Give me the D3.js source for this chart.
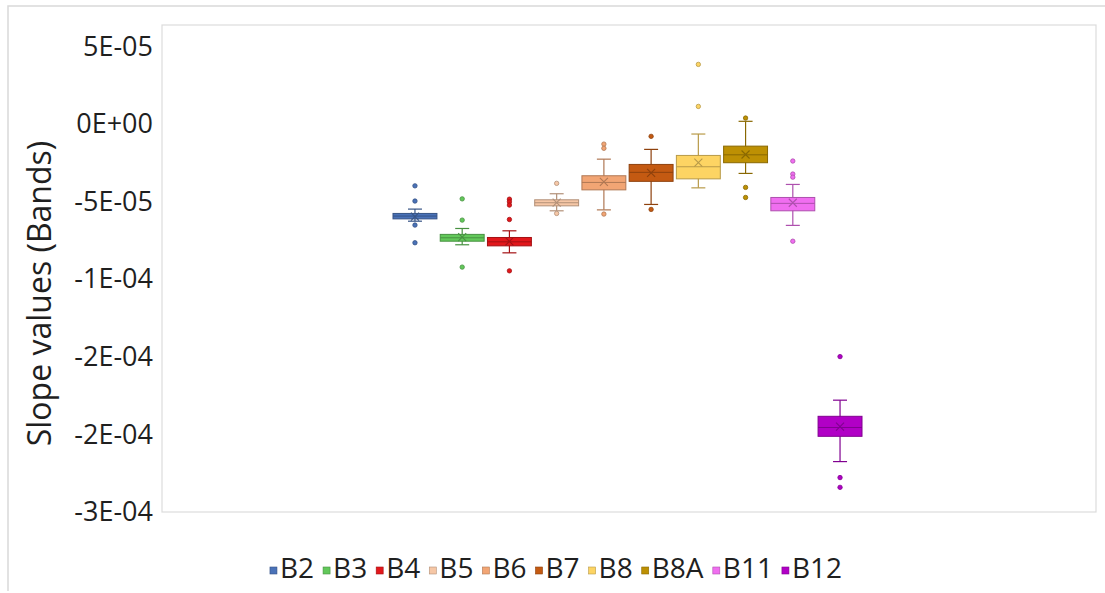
<!doctype html>
<html>
<head>
<meta charset="utf-8"/>
<script src="https://d3js.org/d3.v7.min.js"></script>
<style>
  body { margin:0; background:#fff; }
  text { font-family: "Open Sans", "Noto Sans", sans-serif; fill:#1f1f1f; }
</style>
</head>
<body>
<script>
// band names and colours
var bands   = ["B2","B3","B4","B5","B6","B7","B8","B8A","B11","B12"];
var colours = ["#4a72b8","#62c85a","#e2171b","#f6c7a6","#f2a574","#c45a12","#fdd463","#bd9003","#f06ef0","#b100c6"];

// box statistics (slope values)
var q1      = [-6.10e-5,-7.54e-5,-7.84e-5,-5.26e-5,-4.23e-5,-3.68e-5,-3.52e-5,-2.48e-5,-5.58e-5,-20.12e-5];
var median  = [-5.92e-5,-7.32e-5,-7.58e-5,-5.06e-5,-3.75e-5,-3.10e-5,-2.74e-5,-1.97e-5,-5.10e-5,-19.55e-5];
var q3      = [-5.75e-5,-7.10e-5,-7.30e-5,-4.87e-5,-3.32e-5,-2.59e-5,-2.01e-5,-1.41e-5,-4.72e-5,-18.83e-5];
var wLow    = [-6.25e-5,-7.77e-5,-8.29e-5,-5.58e-5,-5.52e-5,-5.17e-5,-4.10e-5,-3.17e-5,-6.52e-5,-21.75e-5];
var wHigh   = [-5.47e-5,-6.72e-5,-6.87e-5,-4.48e-5,-2.25e-5,-1.62e-5,-0.63e-5, 0.19e-5,-3.88e-5,-17.79e-5];
var mean    = [-5.95e-5,-7.28e-5,-7.55e-5,-5.05e-5,-3.71e-5,-3.13e-5,-2.48e-5,-1.95e-5,-5.06e-5,-19.50e-5];
var outliers = [
  [-3.97e-5,-4.95e-5,-6.50e-5,-7.64e-5],
  [-4.81e-5,-6.18e-5,-9.21e-5],
  [-4.83e-5,-5.00e-5,-5.21e-5,-6.14e-5,-9.45e-5],
  [-3.81e-5,-5.75e-5],
  [-1.28e-5,-1.55e-5,-5.79e-5],
  [-0.78e-5,-5.49e-5],
  [3.86e-5,1.15e-5],
  [0.40e-5,-4.07e-5,-4.72e-5],
  [-2.37e-5,-3.21e-5,-3.41e-5,-7.54e-5],
  [-14.98e-5,-22.78e-5,-23.41e-5]
];

// axis ticks and their labels as shown
var yTicks  = [5e-5, 0, -5e-5, -1e-4, -1.5e-4, -2e-4, -2.5e-4];
var yLabels = ["5E-05","0E+00","-5E-05","-1E-04","-2E-04","-2E-04","-3E-04"];

var W = 1105, H = 593;
var plot = {left:162, top:25, right:1096, bottom:512};

var svg = d3.select("body").append("svg").attr("width",W).attr("height",H);

// outer chart border
svg.append("path").attr("d","M8,591V6H1105").attr("fill","none").attr("stroke","#d9d9d9").attr("stroke-width",1.5);

// plot frame
svg.append("rect").attr("x",plot.left).attr("y",plot.top)
  .attr("width",plot.right-plot.left).attr("height",plot.bottom-plot.top)
  .attr("fill","none").attr("stroke","#dcdcdc").attr("stroke-width",1.2);

var y = d3.scaleLinear().domain([-2.5e-4, 6.4e-5]).range([plot.bottom, plot.top]);
var x = d3.scaleBand().domain(bands).range([393, 862]).paddingInner(0.07);

// y axis labels
var yAxis = d3.axisLeft(y).tickValues(yTicks).tickSize(0).tickPadding(9)
  .tickFormat(function(d,i){ return yLabels[i]; });
var ga = svg.append("g").attr("transform","translate("+plot.left+",0)").call(yAxis);
ga.select(".domain").remove();
ga.selectAll("text").style("font-size","27px").attr("fill","#1f1f1f");

svg.append("text")
  .attr("transform","translate(51,"+((plot.top+plot.bottom)/2+25)+") rotate(-90)")
  .attr("text-anchor","middle").style("font-size","32px")
  .text("Slope values (Bands)");

// boxes
var rows = bands.map(function(b,i){ return {b:b,i:i,c:colours[i],dk:d3.color(colours[i]).darker(0.9).formatHex()}; });
var g = svg.append("g").selectAll("g").data(rows).enter().append("g");
var bw = x.bandwidth();

g.append("line")
  .attr("x1",function(d){return x(d.b)+bw/2;}).attr("x2",function(d){return x(d.b)+bw/2;})
  .attr("y1",function(d){return y(wHigh[d.i]);}).attr("y2",function(d){return y(wLow[d.i]);})
  .attr("stroke",function(d){return d.dk;}).attr("stroke-width",1.2);
[wHigh, wLow].forEach(function(arr){
  g.append("line")
    .attr("x1",function(d){return x(d.b)+bw/2-7;}).attr("x2",function(d){return x(d.b)+bw/2+7;})
    .attr("y1",function(d){return y(arr[d.i]);}).attr("y2",function(d){return y(arr[d.i]);})
    .attr("stroke",function(d){return d.dk;}).attr("stroke-width",1.2);
});
g.append("rect")
  .attr("x",function(d){return x(d.b);}).attr("width",bw)
  .attr("y",function(d){return y(q3[d.i]);})
  .attr("height",function(d){return y(q1[d.i])-y(q3[d.i]);})
  .attr("fill",function(d){return d.c;})
  .attr("stroke",function(d){return d.dk;}).attr("stroke-width",1);
g.append("line")
  .attr("x1",function(d){return x(d.b);}).attr("x2",function(d){return x(d.b)+bw;})
  .attr("y1",function(d){return y(median[d.i]);}).attr("y2",function(d){return y(median[d.i]);})
  .attr("stroke",function(d){return d.dk;}).attr("stroke-width",1);
// mean marker
g.append("path")
  .attr("d",function(d){
    var cx = x(d.b)+bw/2, cy = y(mean[d.i]), s = 4;
    return "M"+(cx-s)+","+(cy-s)+"L"+(cx+s)+","+(cy+s)+"M"+(cx-s)+","+(cy+s)+"L"+(cx+s)+","+(cy-s);
  })
  .attr("stroke",function(d){return d.dk;}).attr("stroke-width",1.1);
// outliers
g.selectAll("circle").data(function(d){ return outliers[d.i].map(function(v){return {v:v,d:d};}); })
  .enter().append("circle")
  .attr("cx",function(o){return x(o.d.b)+bw/2;}).attr("cy",function(o){return y(o.v);})
  .attr("r",2.2)
  .attr("fill",function(o){return o.d.c;})
  .attr("stroke",function(o){return o.d.dk;}).attr("stroke-width",0.8);

// legend
var lg = svg.append("g");
var items = lg.selectAll("g").data(rows).enter().append("g");
items.append("rect").attr("width",7).attr("height",7).attr("y",-11)
  .attr("fill",function(d){return d.c;}).attr("stroke",function(d){return d.dk;}).attr("stroke-width",0.6);
items.append("text").attr("x",10).attr("y",0).style("font-size","28px").text(function(d){return d.b;});
var pos = 0;
items.each(function(){
  var w = this.getBBox().width;
  d3.select(this).attr("transform","translate("+pos+",0)");
  pos += w + 9;
});
var total = pos - 9;
lg.attr("transform","translate("+(556-total/2)+",578)");
</script>
</body>
</html>
